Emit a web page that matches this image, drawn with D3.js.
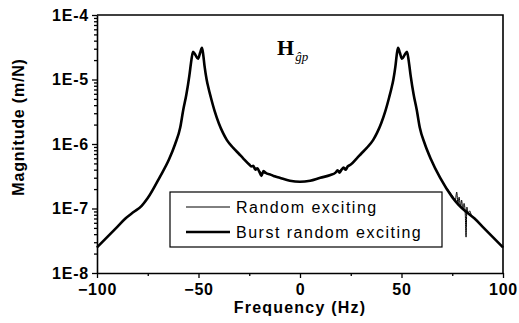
<!DOCTYPE html>
<html>
  <head>
    <meta charset="UTF-8">
    <script src="https://d3js.org/d3.v7.min.js"></script>
    <style>
      body { margin: 0; background: #fff; }
      text { font-family: Arial, "Liberation Sans", sans-serif; }
    </style>
  </head>
  <body>
    <svg id="chart" width="519" height="323"></svg>
    <script type="text/javascript">
      // axis ranges and ticks
      var xDomain = [-100, 100];
      var yDomain = [1e-8, 1e-4];
      var xTicks = [-100, -50, 0, 50, 100];
      var xMinorTicks = [-75, -25, 25, 75];
      var yTicks = [1e-4, 1e-5, 1e-6, 1e-7, 1e-8];
      var yTickLabels = ['1E-4', '1E-5', '1E-6', '1E-7', '1E-8'];
      var legendLabels = ['Random exciting', 'Burst random exciting'];

      // burst random exciting (thick line)
      var burstFreq = [-100, -95, -90, -86, -82, -78, -75, -69, -64.5, -61.5, -59, -57.5, -56, -54.5, -53.5,
        -52.7, -51.5, -50.2, -49.2, -48.3, -47.8, -47, -46, -45, -44, -42, -40, -38, -36, -33, -30, -28,
        -25, -24, -23, -22, -21, -20, -19, -18, -16.5, -15, -13, -10, -5, 0, 5, 10, 15, 17.5, 18.5, 19.5,
        20.5, 21.5, 22.5, 23.5, 25, 28, 30, 33, 36, 38, 40, 42, 44, 45, 46, 47, 47.8, 48.3, 49.2, 50.2,
        51.5, 52.7, 53.5, 54.5, 56, 57.5, 59, 61.5, 64.5, 69, 75, 78, 82, 86, 90, 95, 100];
      var burstMag = [2.5e-8, 3.6e-8, 5.2e-8, 7.0e-8, 8.8e-8, 1.1e-7, 1.45e-7, 3.1e-7, 5.8e-7, 1.0e-6, 1.8e-6,
        3.4e-6, 5.8e-6, 1.15e-5, 2.0e-5, 2.7e-5, 2.4e-5, 2.1e-5, 2.6e-5, 3.1e-5, 2.6e-5, 1.6e-5, 1.0e-5,
        7.2e-6, 5.4e-6, 3.2e-6, 2.1e-6, 1.5e-6, 1.15e-6, 8.8e-7, 7.0e-7, 6.0e-7,
        4.8e-7, 4.5e-7, 4.6e-7, 4.0e-7, 4.2e-7, 3.7e-7, 3.2e-7, 3.8e-7, 3.5e-7, 3.4e-7, 3.2e-7, 3.0e-7,
        2.7e-7, 2.6e-7, 2.7e-7, 3.0e-7, 3.3e-7, 3.6e-7, 3.9e-7, 3.6e-7, 4.0e-7, 4.3e-7, 4.0e-7, 4.5e-7,
        4.8e-7, 6.0e-7, 7.0e-7, 8.8e-7, 1.15e-6, 1.5e-6, 2.1e-6, 3.2e-6, 5.4e-6, 7.2e-6, 1.0e-5, 1.6e-5,
        2.6e-5, 3.1e-5, 2.6e-5, 2.1e-5, 2.4e-5, 2.7e-5, 2.0e-5, 1.15e-5, 5.8e-6, 3.4e-6, 1.8e-6, 1.0e-6,
        5.8e-7, 3.0e-7, 1.5e-7, 1.15e-7, 8.8e-8, 7.0e-8, 5.2e-8, 3.6e-8, 2.5e-8];

      // random exciting (thin line), noisy around 80 Hz
      var randomFreq = [-100, -95, -90, -86, -82, -78, -75, -69, -64.5, -61.5, -59, -57.5, -56, -54.5, -53.5,
        -52.7, -51.5, -50.2, -49.2, -48.3, -47.8, -47, -46, -45, -44, -42, -40, -38, -36, -33, -30, -28,
        -25, -23, -21, -19, -17, -15, -10, -5, 0, 5, 10, 15, 19, 21, 23, 25, 28, 30, 33, 36, 38, 40, 42,
        44, 45, 46, 47, 47.8, 48.3, 49.2, 50.2, 51.5, 52.7, 53.5, 54.5, 56, 57.5, 59, 61.5, 64.5, 69,
        75.5, 76.5, 77.2, 77.8, 78.4, 79, 79.6, 80.2, 80.8, 81.4, 81.8, 82.2, 82.8, 83.5, 84.5, 86, 90, 95, 100];
      var randomMag = [2.5e-8, 3.6e-8, 5.2e-8, 7.0e-8, 8.8e-8, 1.1e-7, 1.45e-7, 3.1e-7, 5.8e-7, 1.0e-6, 1.8e-6,
        3.4e-6, 5.8e-6, 1.15e-5, 2.0e-5, 2.7e-5, 2.4e-5, 2.1e-5, 2.6e-5, 3.1e-5, 2.6e-5, 1.6e-5, 1.0e-5,
        7.2e-6, 5.4e-6, 3.2e-6, 2.1e-6, 1.5e-6, 1.15e-6, 8.8e-7, 7.0e-7, 6.0e-7,
        4.8e-7, 4.4e-7, 4.1e-7, 3.6e-7, 3.5e-7, 3.4e-7, 3.0e-7, 2.7e-7, 2.6e-7, 2.7e-7, 3.0e-7, 3.3e-7,
        3.8e-7, 4.1e-7, 4.3e-7, 4.8e-7, 6.0e-7, 7.0e-7, 8.8e-7, 1.15e-6, 1.5e-6, 2.1e-6, 3.2e-6,
        5.4e-6, 7.2e-6, 1.0e-5, 1.6e-5, 2.6e-5, 3.1e-5, 2.6e-5, 2.1e-5, 2.4e-5, 2.7e-5, 2.0e-5, 1.15e-5,
        5.8e-6, 3.4e-6, 1.8e-6, 1.0e-6, 5.8e-7, 3.0e-7,
        1.5e-7, 1.35e-7, 1.8e-7, 1.2e-7, 1.5e-7, 1.05e-7, 1.35e-7, 9.5e-8, 1.2e-7, 8.5e-8, 3.6e-8, 1.05e-7,
        8.2e-8, 9.2e-8, 7.8e-8, 7.0e-8, 5.2e-8, 3.6e-8, 2.5e-8];

      var margin = {top: 15, right: 16, bottom: 50, left: 97};
      var width = 519 - margin.left - margin.right;
      var height = 323 - margin.top - margin.bottom;

      var svg = d3.select('#chart');
      var g = svg.append('g').attr('transform', 'translate(' + margin.left + ',' + margin.top + ')');

      var x = d3.scaleLinear().domain(xDomain).range([0, width]);
      var y = d3.scaleLog().domain(yDomain).range([height, 0]);

      // minor log ticks (2..9 in each decade)
      var yMinor = y.ticks().filter(function(d) {
        return Math.abs(Math.log10(d) - Math.round(Math.log10(d))) > 1e-6;
      });

      g.append('g')
        .attr('transform', 'translate(0,' + height + ')')
        .call(d3.axisBottom(x).tickValues(xMinorTicks).tickSize(3).tickFormat(''))
        .call(function(a) { a.select('.domain').remove(); });

      g.append('g')
        .call(d3.axisLeft(y).tickValues(yMinor).tickSize(3).tickFormat(''))
        .call(function(a) { a.select('.domain').remove(); });

      var xAxis = g.append('g')
        .attr('transform', 'translate(0,' + height + ')')
        .call(d3.axisBottom(x).tickValues(xTicks).tickSize(5).tickSizeOuter(0).tickPadding(6));

      var yAxis = g.append('g')
        .call(d3.axisLeft(y).tickValues(yTicks).tickSize(5).tickSizeOuter(0).tickPadding(3)
          .tickFormat(function(d, i) { return yTickLabels[i]; }));

      g.selectAll('.tick line').attr('stroke', '#000').attr('stroke-width', 1.3);
      g.selectAll('.domain').attr('stroke', '#000').attr('stroke-width', 1.6);
      g.selectAll('.tick text')
        .attr('fill', '#000')
        .style('font-size', '16px')
        .style('font-weight', 'bold')
        .style('letter-spacing', '0.8px');

      // top and right frame
      g.append('path')
        .attr('d', 'M0,0H' + width + 'V' + height)
        .attr('fill', 'none')
        .attr('stroke', '#000')
        .attr('stroke-width', 1.6);

      var line = d3.line()
        .x(function(d) { return x(d[0]); })
        .y(function(d) { return y(d[1]); })
        .curve(d3.curveMonotoneX);

      g.append('path')
        .datum(d3.zip(burstFreq, burstMag))
        .attr('d', line)
        .attr('fill', 'none')
        .attr('stroke', '#000')
        .attr('stroke-width', 2.6)
        .attr('stroke-linejoin', 'round');

      g.append('path')
        .datum(d3.zip(randomFreq, randomMag))
        .attr('d', line)
        .attr('fill', 'none')
        .attr('stroke', '#000')
        .attr('stroke-width', 1);

      // title H with subscript
      var title = g.append('text')
        .attr('x', 180)
        .attr('y', 40)
        .style('font-family', '"Liberation Serif", "Times New Roman", serif');
      title.append('tspan').text('H').style('font-size', '22px').style('font-weight', 'bold');
      title.append('tspan').text('ĝp').attr('dy', 6).attr('dx', 1)
        .style('font-size', '13px').style('font-style', 'italic');

      // legend
      var legend = g.append('g').attr('transform', 'translate(73,177)');
      legend.append('rect')
        .attr('width', 272).attr('height', 55)
        .attr('fill', '#fff').attr('stroke', '#000').attr('stroke-width', 1.2);
      legendLabels.forEach(function(label, i) {
        var ly = 15 + i * 25;
        legend.append('line')
          .attr('x1', 16).attr('x2', 60).attr('y1', ly).attr('y2', ly)
          .attr('stroke', '#000').attr('stroke-width', i === 0 ? 1 : 2.6);
        legend.append('text')
          .attr('x', 66).attr('y', ly + 6)
          .style('font-size', '16px')
          .style('letter-spacing', '1.5px')
          .text(label);
      });

      // axis titles
      svg.append('text')
        .attr('x', 300).attr('y', 313)
        .attr('text-anchor', 'middle')
        .style('font-size', '16px').style('font-weight', 'bold').style('letter-spacing', '1.2px')
        .text('Frequency (Hz)');

      svg.append('text')
        .attr('transform', 'translate(24,127) rotate(-90)')
        .attr('text-anchor', 'middle')
        .style('font-size', '16px').style('font-weight', 'bold').style('letter-spacing', '0.8px')
        .text('Magnitude (m/N)');
    </script>
  </body>
</html>
